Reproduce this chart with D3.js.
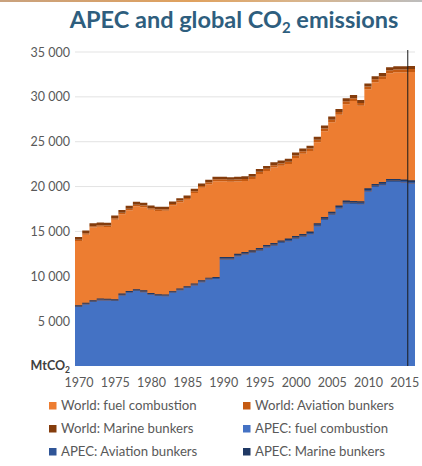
<!DOCTYPE html>
<html>
<head>
<meta charset="utf-8">
<script src="https://cdn.jsdelivr.net/npm/d3@7"></script>
<style>
  html, body { margin: 0; padding: 0; background: #fff; }
  svg { display: block; }
</style>
</head>
<body>
<svg id="chart" width="422" height="466"></svg>
<script>
// Years 1970–2016, one value per year (MtCO2)
const years = d3.range(1970, 2017);

const worldFuel = [
  13920, 14640, 15430, 15510, 15505, 16315, 16925, 17365, 17805, 17695,
  17410, 17280, 17295, 17880, 18245, 18540, 19275, 19865, 20250, 20590,
  20580, 20530, 20570, 20615, 20855, 21390, 21735, 22125, 22320, 22505,
  23195, 23655, 23955, 24945, 26170, 27160, 27995, 29185, 29535, 29015,
  30845, 31640, 31995, 32640, 32735, 32725, 32765
];
const worldAviation = [
  150, 155, 160, 170, 165, 165, 170, 175, 180, 185,
  185, 180, 180, 185, 190, 195, 205, 210, 220, 225,
  230, 225, 230, 235, 240, 250, 255, 260, 265, 275,
  280, 275, 275, 280, 295, 300, 310, 315, 315, 300,
  310, 315, 315, 320, 325, 330, 340
];
const worldMarine = [
  300, 305, 310, 320, 310, 300, 305, 310, 315, 320,
  305, 290, 275, 265, 265, 265, 270, 275, 280, 285,
  290, 295, 300, 300, 305, 310, 310, 315, 315, 320,
  325, 320, 320, 325, 335, 340, 345, 350, 350, 335,
  345, 345, 340, 340, 340, 345, 345
];
const apecFuel = [
  6590, 6846, 7130, 7312, 7298, 7253, 7867, 8162, 8347, 8223,
  7937, 7795, 7781, 8173, 8430, 8688, 8981, 9346, 9630, 9705,
  11880, 11880, 12225, 12423, 12617, 12860, 13207, 13402, 13700, 13893,
  14187, 14393, 14693, 15587, 16275, 16868, 17562, 18096, 18056, 18041,
  19460, 19956, 20156, 20502, 20499, 20442, 20337
];
const apecAviation = [
  80, 82, 85, 88, 86, 85, 88, 90, 93, 95,
  95, 93, 93, 95, 98, 100, 105, 108, 112, 115,
  120, 118, 120, 122, 125, 130, 133, 136, 138, 142,
  145, 142, 142, 145, 152, 156, 160, 163, 163, 156,
  162, 166, 168, 172, 175, 180, 185
];
const apecMarine = [
  110, 112, 115, 120, 116, 112, 115, 118, 120, 122,
  118, 112, 106, 102, 102, 102, 104, 106, 108, 110,
  150, 152, 155, 155, 158, 160, 160, 162, 162, 165,
  168, 165, 165, 168, 173, 176, 178, 181, 181, 173,
  178, 178, 176, 176, 176, 178, 178
];

const yTicks = [5000, 10000, 15000, 20000, 25000, 30000, 35000];
const xTicks = [1970, 1975, 1980, 1985, 1990, 1995, 2000, 2005, 2010, 2015];
const markerYear = 2016;

const seriesNames = [
  "World: fuel combustion", "World: Aviation bunkers", "World: Marine bunkers",
  "APEC: fuel combustion", "APEC: Aviation bunkers", "APEC: Marine bunkers"
];
const seriesColors = ["#ED7D31", "#C55A11", "#843C0C", "#4472C4", "#2F5597", "#1F3864"];

const svg = d3.select("#chart");
const W = 422, H = 466;
const plotL = 75, plotR = 415, plotT = 52, plotB = 366;

const x = d3.scaleLinear().domain([1970, 2017]).range([plotL, plotR]);
const y = d3.scaleLinear().domain([0, 35000]).range([plotB, plotT]);

// thin decorative band along the top edge
const grad = svg.append("defs").append("linearGradient").attr("id", "topband");
[["0%", "#c9a27e"], ["45%", "#e0a15e"], ["70%", "#d9b48a"], ["100%", "#bdbdbd"]]
  .forEach(([o, c]) => grad.append("stop").attr("offset", o).attr("stop-color", c));
svg.append("rect").attr("x", 0).attr("y", 0).attr("width", W).attr("height", 2)
  .attr("fill", "url(#topband)");

// title
const title = svg.append("text")
  .attr("x", 234).attr("y", 28)
  .attr("text-anchor", "middle")
  .attr("font-family", "Lato, 'Open Sans', sans-serif")
  .attr("font-weight", "bold")
  .attr("font-size", 23.5)
  .attr("fill", "#2E5E7E");
title.append("tspan").text("APEC and global CO");
title.append("tspan").text("2").attr("font-size", 15).attr("dy", 5);
title.append("tspan").text(" emissions").attr("dy", -5);

// gridlines
svg.append("g").selectAll("line").data(yTicks).join("line")
  .attr("x1", plotL).attr("x2", plotR)
  .attr("y1", d => y(d)).attr("y2", d => y(d))
  .attr("stroke", "#E3E3E3").attr("stroke-width", 1);

// y axis labels
const fmt = v => d3.format(",")(v).replace(",", " ");
const yAxis = svg.append("g").attr("transform", `translate(${plotL - 5},0)`)
  .call(d3.axisLeft(y).tickValues(yTicks).tickFormat(fmt).tickSize(0).tickPadding(0));
yAxis.select(".domain").remove();
yAxis.selectAll("text")
  .attr("font-family", "Lato, 'Open Sans', sans-serif")
  .attr("font-size", 12.5).attr("fill", "#595959");

// unit label at the zero line
const unit = svg.append("text")
  .attr("x", plotL - 5).attr("y", plotB + 4)
  .attr("text-anchor", "end")
  .attr("font-family", "Lato, 'Open Sans', sans-serif")
  .attr("font-weight", "bold").attr("font-size", 12.5).attr("fill", "#404040");
unit.append("tspan").text("MtCO");
unit.append("tspan").text("2").attr("font-size", 8.5).attr("dy", 3);

// stacked data; the last year is repeated so its step gets full width
function rows(keys, arrays) {
  const r = years.map((yr, i) => {
    const o = { year: yr };
    keys.forEach((k, j) => o[k] = arrays[j][i]);
    return o;
  });
  const last = Object.assign({}, r[r.length - 1], { year: 2017 });
  r.push(last);
  return r;
}
const keys = ["fuel", "aviation", "marine"];
const worldStack = d3.stack().keys(keys)(rows(keys, [worldFuel, worldAviation, worldMarine]));
const apecStack = d3.stack().keys(keys)(rows(keys, [apecFuel, apecAviation, apecMarine]));

const area = d3.area()
  .curve(d3.curveStepAfter)
  .x(d => x(d.data.year))
  .y0(d => y(d[0]))
  .y1(d => y(d[1]));

svg.append("g").selectAll("path").data(worldStack).join("path")
  .attr("d", area).attr("fill", (d, i) => seriesColors[i]);
svg.append("g").selectAll("path").data(apecStack).join("path")
  .attr("d", area).attr("fill", (d, i) => seriesColors[i + 3]);

// marker line for the latest year
svg.append("line")
  .attr("x1", x(markerYear)).attr("x2", x(markerYear))
  .attr("y1", plotT - 2).attr("y2", plotB)
  .attr("stroke", "#1a1a1a").attr("stroke-width", 1);

// x axis labels centered on each year's step
const xMid = d3.scaleLinear().domain([1969.5, 2016.5]).range([plotL, plotR]);
const xAxis = svg.append("g").attr("transform", `translate(0,${plotB + 8})`)
  .call(d3.axisBottom(xMid).tickValues(xTicks).tickFormat(d3.format("d"))
    .tickSize(0).tickPadding(4));
xAxis.select(".domain").remove();
xAxis.selectAll("text")
  .attr("font-family", "Lato, 'Open Sans', sans-serif")
  .attr("font-size", 12.5).attr("fill", "#595959");

// legend: two columns, three rows
const legend = svg.append("g");
const colX = [49, 243], rowY = [410, 433, 456];
seriesNames.forEach((name, i) => {
  const g = legend.append("g")
    .attr("transform", `translate(${colX[i % 2]},${rowY[Math.floor(i / 2)]})`);
  g.append("rect").attr("x", 0).attr("y", -8).attr("width", 7.5).attr("height", 7.5)
    .attr("fill", seriesColors[i]);
  g.append("text").attr("x", 12).attr("y", 0)
    .attr("font-family", "Lato, 'Open Sans', sans-serif")
    .attr("font-size", 13.2).attr("fill", "#595959")
    .text(name);
});
</script>
</body>
</html>
